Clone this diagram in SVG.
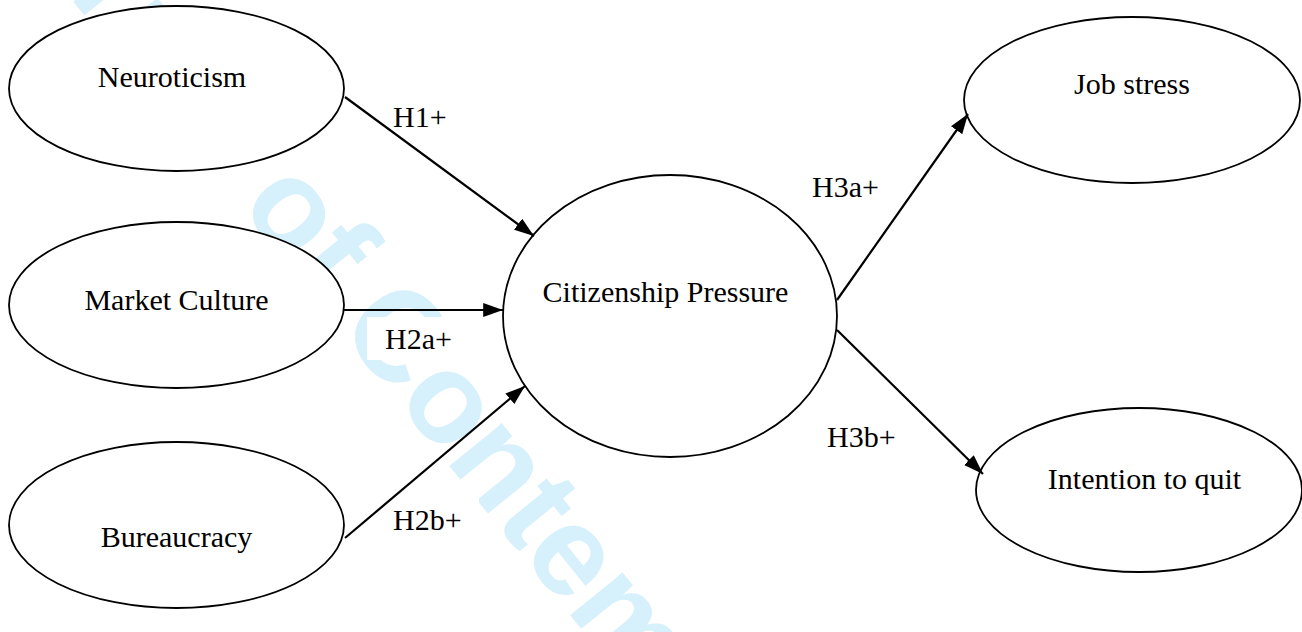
<svg xmlns="http://www.w3.org/2000/svg" width="1302" height="632" viewBox="0 0 1302 632">
<style>
.wm{font-family:"Liberation Sans",Arial,sans-serif;font-weight:bold;font-size:128px;fill:#d6f0fc}
.node{fill:#ffffff;stroke:#000000;stroke-width:1.8}
.lbl{font-family:"Liberation Serif","Times New Roman",serif;font-size:30px;fill:#000000}
.nt{text-anchor:middle}
.box{fill:#ffffff}
.edge{stroke:#000000;stroke-width:2.2;fill:none;marker-end:url(#ah)}
</style>
<defs>
<marker id="ah" viewBox="0 0 10 7" refX="10" refY="3.5" markerWidth="9" markerHeight="6.5" orient="auto" markerUnits="strokeWidth">
<path d="M0,0 L10,3.5 L0,7 z" fill="#000000"/>
</marker>
</defs>
<rect width="1302" height="632" fill="#ffffff"/>
<g id="watermark">
<text class="wm" transform="translate(238,205) rotate(51)" x="-498" y="0">Journal of Contemporary</text>
</g>
<g id="label-boxes">
<rect class="box" x="375" y="95" width="90" height="43"/>
<rect class="box" x="367" y="317" width="104" height="43"/>
<rect class="box" x="375" y="498" width="104" height="43"/>
<rect class="box" x="794" y="165" width="104" height="43"/>
<rect class="box" x="809" y="415" width="104" height="43"/>
</g>
<g id="n-neuroticism">
<ellipse class="node" cx="176.5" cy="88.5" rx="167.5" ry="82.5"/>
<text class="lbl nt" x="172" y="87">Neuroticism</text>
</g>
<g id="n-market">
<ellipse class="node" cx="176.5" cy="305" rx="167.5" ry="83"/>
<text class="lbl nt" x="176.5" y="310">Market Culture</text>
</g>
<g id="n-bureaucracy">
<ellipse class="node" cx="176.5" cy="525" rx="167.5" ry="83"/>
<text class="lbl nt" x="176.5" y="547">Bureaucracy</text>
</g>
<g id="n-citizenship">
<ellipse class="node" cx="670" cy="316" rx="167" ry="141"/>
<text class="lbl nt" x="665.5" y="302">Citizenship Pressure</text>
</g>
<g id="n-jobstress">
<ellipse class="node" cx="1132" cy="100" rx="168" ry="83"/>
<text class="lbl nt" x="1132" y="94">Job stress</text>
</g>
<g id="n-quit">
<ellipse class="node" cx="1139" cy="490" rx="163" ry="82"/>
<text class="lbl nt" x="1144.5" y="489">Intention to quit</text>
</g>
<g id="connectors">
<line class="edge" x1="345" y1="97" x2="534" y2="236"/>
<line class="edge" x1="344" y1="310" x2="503" y2="310"/>
<line class="edge" x1="345" y1="538" x2="525" y2="386"/>
<line class="edge" x1="837" y1="300" x2="968" y2="114"/>
<line class="edge" x1="837" y1="330" x2="983" y2="474"/>
</g>
<g id="edge-labels">
<text class="lbl" x="393" y="127">H1+</text>
<text class="lbl" x="385" y="349">H2a+</text>
<text class="lbl" x="393" y="530">H2b+</text>
<text class="lbl" x="812" y="197">H3a+</text>
<text class="lbl" x="827" y="447">H3b+</text>
</g>
</svg>
